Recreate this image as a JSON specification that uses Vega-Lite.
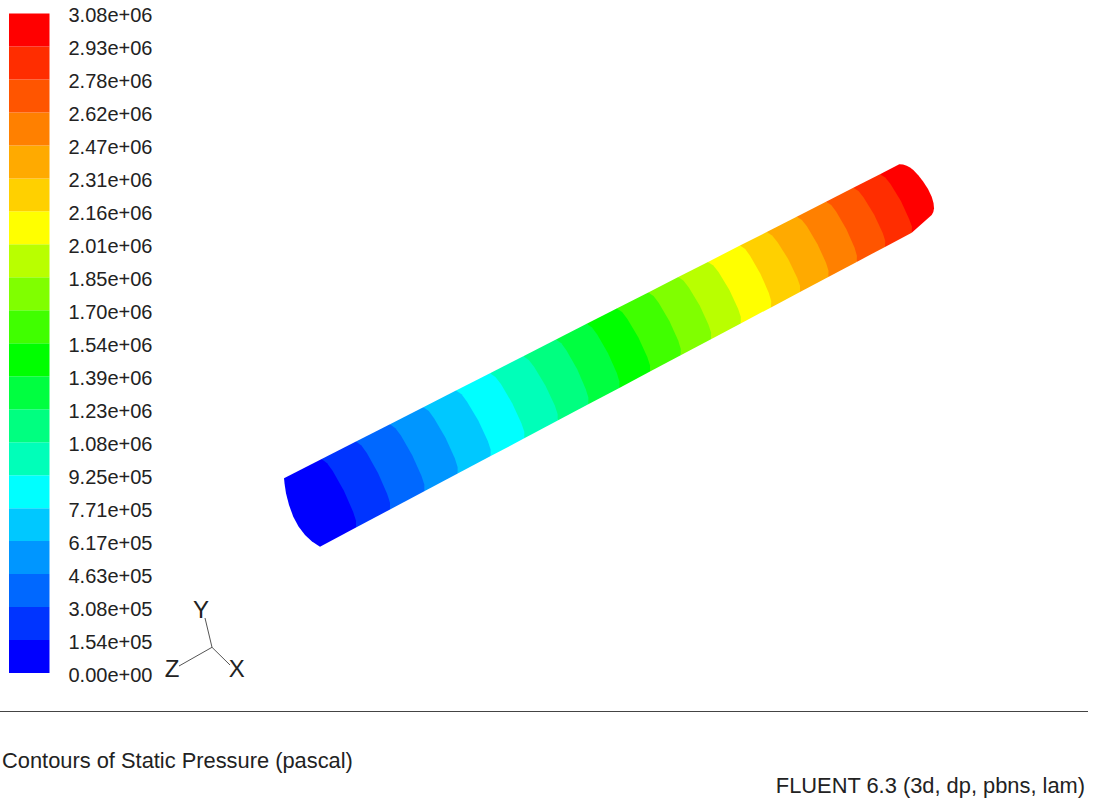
{"$schema":"https://vega.github.io/schema/vega-lite/v6.json","width":1095,"height":802,"padding":0,"autosize":{"type":"none"},"background":"#ffffff","config":{"view":{"stroke":null},"font":"Liberation Sans"},
"datasets":{
"legend":[{"band":0,"p0":0,"p1":154240},{"band":1,"p0":154240,"p1":308480},{"band":2,"p0":308480,"p1":462720},{"band":3,"p0":462720,"p1":616960},{"band":4,"p0":616960,"p1":771200},{"band":5,"p0":771200,"p1":925440},{"band":6,"p0":925440,"p1":1079680},{"band":7,"p0":1079680,"p1":1233920},{"band":8,"p0":1233920,"p1":1388160},{"band":9,"p0":1388160,"p1":1542400},{"band":10,"p0":1542400,"p1":1696640},{"band":11,"p0":1696640,"p1":1850880},{"band":12,"p0":1850880,"p1":2005120},{"band":13,"p0":2005120,"p1":2159360},{"band":14,"p0":2159360,"p1":2313600},{"band":15,"p0":2313600,"p1":2467840},{"band":16,"p0":2467840,"p1":2622080},{"band":17,"p0":2622080,"p1":2776320},{"band":18,"p0":2776320,"p1":2930560},{"band":19,"p0":2930560,"p1":3084800}],
"tube":[
{"band":19,"i":0,"x":880,"y":174.2},{"band":19,"i":1,"x":899.3,"y":164.3},{"band":19,"i":1.5,"x":903,"y":164.6},{"band":19,"i":2,"x":906.7,"y":165.7},{"band":19,"i":2.5,"x":910,"y":167.5},{"band":19,"i":3,"x":913.3,"y":170},{"band":19,"i":3.5,"x":918.5,"y":175.5},{"band":19,"i":4,"x":923.3,"y":181.7},{"band":19,"i":4.5,"x":928,"y":189},{"band":19,"i":5,"x":931.7,"y":196.7},{"band":19,"i":5.5,"x":933.5,"y":203},{"band":19,"i":6,"x":934,"y":208.3},{"band":19,"i":6.5,"x":933.3,"y":212},{"band":19,"i":7,"x":931.7,"y":215},{"band":19,"i":8,"x":911.7,"y":232.7},
{"band":18,"i":0,"x":853.3,"y":187.8},{"band":18,"i":1,"x":880,"y":174.2},{"band":18,"i":1.5,"x":885.2,"y":177.5},{"band":18,"i":2,"x":890.3,"y":183.8},{"band":18,"i":3,"x":900.9,"y":200.9},{"band":18,"i":4,"x":909.1,"y":218.9},{"band":18,"i":4.5,"x":911.9,"y":226.6},{"band":18,"i":5,"x":911.7,"y":232.7},{"band":18,"i":6,"x":885,"y":246.9},
{"band":17,"i":0,"x":826,"y":201.7},{"band":17,"i":1,"x":853.3,"y":187.8},{"band":17,"i":1.5,"x":858.5,"y":191.1},{"band":17,"i":2,"x":863.6,"y":197.5},{"band":17,"i":3,"x":874.2,"y":214.8},{"band":17,"i":4,"x":882.7,"y":233},{"band":17,"i":4.5,"x":885.2,"y":240.8},{"band":17,"i":5,"x":885,"y":246.9},{"band":17,"i":6,"x":856.7,"y":261.9},
{"band":16,"i":0,"x":796.7,"y":216.7},{"band":16,"i":1,"x":826,"y":201.7},{"band":16,"i":1.5,"x":831.2,"y":205.1},{"band":16,"i":2,"x":836.1,"y":211.6},{"band":16,"i":3,"x":846.4,"y":229.2},{"band":16,"i":4,"x":854.6,"y":247.8},{"band":16,"i":4.5,"x":856.9,"y":255.7},{"band":16,"i":5,"x":856.7,"y":261.9},{"band":16,"i":6,"x":828.3,"y":276.9},
{"band":15,"i":0,"x":766.7,"y":232},{"band":15,"i":1,"x":796.7,"y":216.7},{"band":15,"i":1.5,"x":801.9,"y":220.1},{"band":15,"i":2,"x":807,"y":226.6},{"band":15,"i":3,"x":817.5,"y":244.2},{"band":15,"i":4,"x":826,"y":262.8},{"band":15,"i":4.5,"x":828.5,"y":270.7},{"band":15,"i":5,"x":828.3,"y":276.9},{"band":15,"i":6,"x":800,"y":292},
{"band":14,"i":0,"x":740,"y":245.6},{"band":14,"i":1,"x":766.7,"y":232},{"band":14,"i":1.5,"x":772.1,"y":235.4},{"band":14,"i":2,"x":777.4,"y":241.9},{"band":14,"i":3,"x":788.4,"y":259.4},{"band":14,"i":4,"x":797.3,"y":277.9},{"band":14,"i":4.5,"x":800,"y":285.8},{"band":14,"i":5,"x":800,"y":292},{"band":14,"i":6,"x":771,"y":307.4},
{"band":13,"i":0,"x":708,"y":261.9},{"band":13,"i":1,"x":740,"y":245.6},{"band":13,"i":1.5,"x":745.2,"y":249.1},{"band":13,"i":2,"x":750.2,"y":255.9},{"band":13,"i":3,"x":760.5,"y":273.9},{"band":13,"i":4,"x":768.8,"y":292.9},{"band":13,"i":4.5,"x":771.2,"y":301.1},{"band":13,"i":5,"x":771,"y":307.4},{"band":13,"i":6,"x":740.7,"y":323.4},
{"band":12,"i":0,"x":678.3,"y":277.1},{"band":12,"i":1,"x":708,"y":261.9},{"band":12,"i":1.5,"x":713.3,"y":265.4},{"band":12,"i":2,"x":718.5,"y":272.1},{"band":12,"i":3,"x":729.4,"y":290.1},{"band":12,"i":4,"x":738.2,"y":309},{"band":12,"i":4.5,"x":740.8,"y":317.1},{"band":12,"i":5,"x":740.7,"y":323.4},{"band":12,"i":6,"x":711,"y":339.2},
{"band":11,"i":0,"x":648.3,"y":292.4},{"band":11,"i":1,"x":678.3,"y":277.1},{"band":11,"i":1.5,"x":683.6,"y":280.7},{"band":11,"i":2,"x":688.8,"y":287.4},{"band":11,"i":3,"x":699.7,"y":305.6},{"band":11,"i":4,"x":708.5,"y":324.7},{"band":11,"i":4.5,"x":711.1,"y":332.8},{"band":11,"i":5,"x":711,"y":339.2},{"band":11,"i":6,"x":680.7,"y":355.3},
{"band":10,"i":0,"x":616.7,"y":308.5},{"band":10,"i":1,"x":648.3,"y":292.4},{"band":10,"i":1.5,"x":653.6,"y":296},{"band":10,"i":2,"x":658.8,"y":302.9},{"band":10,"i":3,"x":669.5,"y":321.3},{"band":10,"i":4,"x":678.2,"y":340.6},{"band":10,"i":4.5,"x":680.8,"y":348.9},{"band":10,"i":5,"x":680.7,"y":355.3},{"band":10,"i":6,"x":650,"y":371.6},
{"band":9,"i":0,"x":586.7,"y":323.8},{"band":9,"i":1,"x":616.7,"y":308.5},{"band":9,"i":1.5,"x":622.1,"y":312.1},{"band":9,"i":2,"x":627.4,"y":319},{"band":9,"i":3,"x":638.4,"y":337.5},{"band":9,"i":4,"x":647.3,"y":356.9},{"band":9,"i":4.5,"x":650,"y":365.2},{"band":9,"i":5,"x":650,"y":371.6},{"band":9,"i":6,"x":619.3,"y":387.9},
{"band":8,"i":0,"x":556,"y":339.5},{"band":8,"i":1,"x":586.7,"y":323.8},{"band":8,"i":1.5,"x":592,"y":327.5},{"band":8,"i":2,"x":597.2,"y":334.5},{"band":8,"i":3,"x":608,"y":353.3},{"band":8,"i":4,"x":616.8,"y":372.9},{"band":8,"i":4.5,"x":619.4,"y":381.4},{"band":8,"i":5,"x":619.3,"y":387.9},{"band":8,"i":6,"x":588.3,"y":404.3},
{"band":7,"i":0,"x":523.3,"y":356.2},{"band":7,"i":1,"x":556,"y":339.5},{"band":7,"i":1.5,"x":561.3,"y":343.3},{"band":7,"i":2,"x":566.5,"y":350.4},{"band":7,"i":3,"x":577.2,"y":369.3},{"band":7,"i":4,"x":585.8,"y":389.2},{"band":7,"i":4.5,"x":588.4,"y":397.7},{"band":7,"i":5,"x":588.3,"y":404.3},{"band":7,"i":6,"x":557.7,"y":420.6},
{"band":6,"i":0,"x":490,"y":373.2},{"band":6,"i":1,"x":523.3,"y":356.2},{"band":6,"i":1.5,"x":528.8,"y":360},{"band":6,"i":2,"x":534.2,"y":367},{"band":6,"i":3,"x":545.5,"y":385.8},{"band":6,"i":4,"x":554.8,"y":405.6},{"band":6,"i":4.5,"x":557.6,"y":414},{"band":6,"i":5,"x":557.7,"y":420.6},{"band":6,"i":6,"x":524.3,"y":438.3},
{"band":5,"i":0,"x":456,"y":390.5},{"band":5,"i":1,"x":490,"y":373.2},{"band":5,"i":1.5,"x":495.4,"y":377},{"band":5,"i":2,"x":500.9,"y":384.1},{"band":5,"i":3,"x":512.2,"y":403.2},{"band":5,"i":4,"x":521.4,"y":423.2},{"band":5,"i":4.5,"x":524.3,"y":431.7},{"band":5,"i":5,"x":524.3,"y":438.3},{"band":5,"i":6,"x":490.7,"y":456.1},
{"band":4,"i":0,"x":423.3,"y":407.2},{"band":4,"i":1,"x":456,"y":390.5},{"band":4,"i":1.5,"x":461.5,"y":394.3},{"band":4,"i":2,"x":466.9,"y":401.5},{"band":4,"i":3,"x":478.4,"y":420.7},{"band":4,"i":4,"x":487.8,"y":440.9},{"band":4,"i":4.5,"x":490.6,"y":449.5},{"band":4,"i":5,"x":490.7,"y":456.1},{"band":4,"i":6,"x":457.7,"y":473.6},
{"band":3,"i":0,"x":390,"y":424.2},{"band":3,"i":1,"x":423.3,"y":407.2},{"band":3,"i":1.5,"x":428.8,"y":411.1},{"band":3,"i":2,"x":434.2,"y":418.4},{"band":3,"i":3,"x":445.5,"y":437.8},{"band":3,"i":4,"x":454.8,"y":458.2},{"band":3,"i":4.5,"x":457.6,"y":466.9},{"band":3,"i":5,"x":457.7,"y":473.6},{"band":3,"i":6,"x":424.3,"y":491.3},
{"band":2,"i":0,"x":356,"y":441.6},{"band":2,"i":1,"x":390,"y":424.2},{"band":2,"i":1.5,"x":395.4,"y":428.2},{"band":2,"i":2,"x":400.9,"y":435.5},{"band":2,"i":3,"x":412.2,"y":455.2},{"band":2,"i":4,"x":421.4,"y":475.8},{"band":2,"i":4.5,"x":424.3,"y":484.5},{"band":2,"i":5,"x":424.3,"y":491.3},{"band":2,"i":6,"x":390,"y":509.6},
{"band":1,"i":0,"x":321.7,"y":459.1},{"band":1,"i":1,"x":356,"y":441.6},{"band":1,"i":1.5,"x":361.4,"y":445.6},{"band":1,"i":2,"x":366.8,"y":453.1},{"band":1,"i":3,"x":378,"y":473},{"band":1,"i":4,"x":387.2,"y":493.9},{"band":1,"i":4.5,"x":390,"y":502.8},{"band":1,"i":5,"x":390,"y":509.6},{"band":1,"i":6,"x":356,"y":527.6},
{"band":0,"i":0,"x":284,"y":478.3},{"band":0,"i":1,"x":321.7,"y":459.1},{"band":0,"i":1.5,"x":327.1,"y":463.2},{"band":0,"i":2,"x":332.6,"y":470.7},{"band":0,"i":3,"x":343.9,"y":490.8},{"band":0,"i":4,"x":353.1,"y":511.8},{"band":0,"i":4.5,"x":356,"y":520.7},{"band":0,"i":5,"x":356,"y":527.6},{"band":0,"i":6,"x":320,"y":546.7},{"band":0,"i":6.5,"x":312,"y":541.5},{"band":0,"i":7,"x":305,"y":535},{"band":0,"i":7.5,"x":298.5,"y":526.5},{"band":0,"i":8,"x":293.3,"y":516.7},{"band":0,"i":8.5,"x":289,"y":505},{"band":0,"i":9,"x":286,"y":493.3},{"band":0,"i":9.5,"x":284.6,"y":484}
],
"triad":[{"axis":"X","i":0,"x":212,"y":647.3},{"axis":"X","i":1,"x":230,"y":665},{"axis":"Y","i":0,"x":212,"y":647.3},{"axis":"Y","i":1,"x":205,"y":618},{"axis":"Z","i":0,"x":212,"y":647.3},{"axis":"Z","i":1,"x":179,"y":666}],
"triadLabels":[{"axis":"X","x":236.7,"y":670},{"axis":"Y","x":201,"y":611},{"axis":"Z","x":172,"y":670}]
},
"resolve":{"scale":{"y":"independent"}},
"layer":[
{"data":{"name":"legend"},"mark":{"type":"rect","strokeWidth":0},"encoding":{
"x":{"datum":9,"type":"quantitative","scale":{"domain":[0,1095]},"axis":null},"x2":{"datum":49.5},
"y":{"field":"p0","type":"quantitative","scale":{"domain":[0,3084800],"range":[673,13.5],"nice":false},"axis":{"orient":"right","offset":-1027,"title":null,"domain":false,"ticks":false,"grid":false,"labelPadding":0,"labelFont":"Liberation Sans","labelFontSize":20,"labelColor":"#222222","labelOffset":2,"labelOverlap":false,"labelBound":false,"labelFlush":false,"labelAlign":"left","labelBaseline":"middle","values":[0,154240,308480,462720,616960,771200,925440,1079680,1233920,1388160,1542400,1696640,1850880,2005120,2159360,2313600,2467840,2622080,2776320,2930560,3084800],"labelExpr":"replace(format(datum.value,'.2e'),/e\\+(\\d)$/,'e+0$1')"}},"y2":{"field":"p1"},
"fill":{"field":"band","type":"ordinal","scale":{"domain":[0,1,2,3,4,5,6,7,8,9,10,11,12,13,14,15,16,17,18,19],"range":["#0000ff","#0034ff","#0068ff","#0096ff","#00c8ff","#00ffff","#00ffb9","#00ff80","#00ff40","#00ff00","#40ff00","#80ff00","#b9ff00","#ffff00","#ffd000","#ffaa00","#ff8000","#ff5500","#ff2d00","#ff0000"]},"legend":null}}},
{"data":{"name":"tube"},"mark":{"type":"line","strokeWidth":0,"interpolate":"linear"},"encoding":{
"x":{"field":"x","type":"quantitative","scale":{"domain":[0,1095]},"axis":null},
"y":{"field":"y","type":"quantitative","scale":{"domain":[802,0],"nice":false,"zero":false},"axis":null},
"order":{"field":"i","type":"quantitative"},
"detail":{"field":"band","type":"ordinal"},
"fill":{"field":"band","type":"ordinal","legend":null}}},
{"data":{"name":"triad"},"mark":{"type":"line","stroke":"#555555","strokeWidth":1},"encoding":{
"x":{"field":"x","type":"quantitative","scale":{"domain":[0,1095]},"axis":null},
"y":{"field":"y","type":"quantitative","scale":{"domain":[802,0],"nice":false,"zero":false},"axis":null},
"order":{"field":"i","type":"quantitative"},"detail":{"field":"axis","type":"nominal"}}},
{"data":{"name":"triadLabels"},"mark":{"type":"text","font":"Liberation Sans","fontSize":24,"color":"#222222","align":"center","baseline":"middle"},"encoding":{
"x":{"field":"x","type":"quantitative","scale":{"domain":[0,1095]},"axis":null},
"y":{"field":"y","type":"quantitative","scale":{"domain":[802,0],"nice":false,"zero":false},"axis":null},
"text":{"field":"axis","type":"nominal"}}},
{"data":{"values":[{"a":1}]},"mark":{"type":"rule","stroke":"#444444","strokeWidth":1},"encoding":{
"x":{"datum":0,"type":"quantitative","scale":{"domain":[0,1095]},"axis":null},"x2":{"datum":1088},
"y":{"datum":711.5,"type":"quantitative","scale":{"domain":[802,0],"nice":false,"zero":false},"axis":null}}},
{"data":{"values":[{"a":1}]},"mark":{"type":"text","font":"Liberation Sans","fontSize":21.85,"color":"#222222","align":"left","baseline":"middle","text":"Contours of Static Pressure (pascal)"},"encoding":{
"x":{"datum":2,"type":"quantitative","scale":{"domain":[0,1095]},"axis":null},
"y":{"datum":761,"type":"quantitative","scale":{"domain":[802,0],"nice":false,"zero":false},"axis":null}}},
{"data":{"values":[{"a":1}]},"mark":{"type":"text","font":"Liberation Sans","fontSize":21.85,"color":"#222222","align":"right","baseline":"middle","text":"FLUENT 6.3 (3d, dp, pbns, lam)"},"encoding":{
"x":{"datum":1085,"type":"quantitative","scale":{"domain":[0,1095]},"axis":null},
"y":{"datum":786,"type":"quantitative","scale":{"domain":[802,0],"nice":false,"zero":false},"axis":null}}}
]}
